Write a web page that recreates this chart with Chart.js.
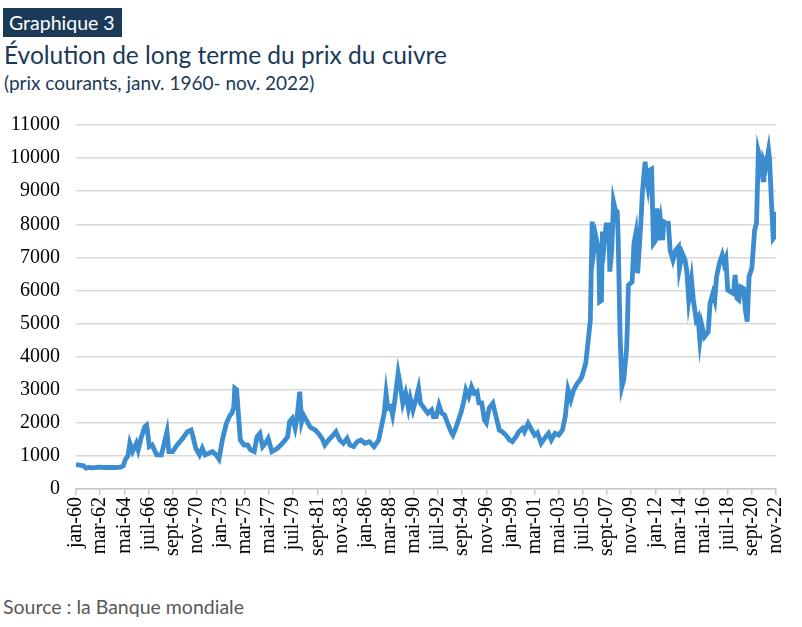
<!DOCTYPE html>
<html lang="fr">
<head>
    <meta charset="UTF-8">
    <title>Évolution de long terme du prix du cuivre</title>
    <script src="https://cdn.jsdelivr.net/npm/chart.js"></script>
    <style>
        body {
            margin: 0;
            width: 802px;
            height: 627px;
            background: #fff;
            position: relative;
            overflow: hidden;
            font-family: 'Lato', 'Noto Sans', sans-serif;
        }
        #badge {
            position: absolute;
            left: 3px;
            top: 8px;
            height: 29px;
            padding: 0 7px 0 6px;
            background: #1b3a57;
            color: #fff;
            font-size: 19.5px;
            line-height: 29px;
        }
        #titre {
            position: absolute;
            left: 4px;
            top: 40px;
            font-size: 24.5px;
            color: #1b3a57;
        }
        #sous-titre {
            position: absolute;
            left: 4px;
            top: 71px;
            font-size: 19px;
            color: #1b3a57;
        }
        #source {
            position: absolute;
            left: 3px;
            top: 595px;
            font-size: 19.5px;
            color: #595959;
        }
        #cadre {
            position: absolute;
            left: 0;
            top: 110px;
            width: 802px;
            height: 470px;
        }
    </style>
</head>
<body>
    <div id="badge">Graphique 3</div>
    <div id="titre">Évolution de long terme du prix du cuivre</div>
    <div id="sous-titre">(prix courants, janv. 1960- nov. 2022)</div>
    <div id="cadre"><canvas id="graphique"></canvas></div>
    <div id="source">Source : la Banque mondiale</div>

    <script>
        // Étiquettes de l'axe horizontal (un repère tous les 26 mois)
        const etiquettes = ['jan-60', 'mar-62', 'mai-64', 'juil-66', 'sept-68', 'nov-70', 'jan-73', 'mar-75',
            'mai-77', 'juil-79', 'sept-81', 'nov-83', 'jan-86', 'mar-88', 'mai-90', 'juil-92', 'sept-94',
            'nov-96', 'jan-99', 'mar-01', 'mai-03', 'juil-05', 'sept-07', 'nov-09', 'jan-12', 'mar-14',
            'mai-16', 'juil-18', 'sept-20', 'nov-22'];

        // Mois
        const mois = [
            '1960-01', '1960-05', '1960-09', '1960-12', '1961-03', '1961-07', '1962-01', '1962-07', '1963-01', '1963-07',
            '1964-01', '1964-04', '1964-06', '1964-09', '1964-11', '1965-02', '1965-04', '1965-06', '1965-08', '1965-11',
            '1966-03', '1966-05', '1966-06', '1966-08', '1966-11', '1967-02', '1967-04', '1967-09', '1967-12', '1968-03',
            '1968-05', '1968-09', '1969-02', '1969-08', '1970-01', '1970-05', '1970-07', '1970-10', '1971-02', '1971-05',
            '1971-08', '1971-12', '1972-04', '1972-08', '1972-11', '1973-03', '1973-07', '1973-11', '1974-01', '1974-03',
            '1974-04', '1974-06', '1974-08', '1974-10', '1975-02', '1975-06', '1975-09', '1976-01', '1976-04', '1976-07',
            '1976-10', '1977-01', '1977-04', '1977-08', '1978-02', '1978-09', '1979-01', '1979-03', '1979-06', '1979-09',
            '1979-11', '1980-02', '1980-04', '1980-06', '1980-10', '1981-01', '1981-03', '1981-07', '1981-10', '1982-02',
            '1982-05', '1982-09', '1983-02', '1983-05', '1983-09', '1984-01', '1984-05', '1984-08', '1984-12', '1985-04',
            '1985-08', '1985-12', '1986-05', '1986-10', '1987-03', '1987-06', '1987-09', '1987-11', '1988-01', '1988-04',
            '1988-06', '1988-08', '1988-12', '1989-02', '1989-05', '1989-08', '1989-11', '1990-01', '1990-04', '1990-07',
            '1990-10', '1990-12', '1991-04', '1991-08', '1991-12', '1992-02', '1992-05', '1992-08', '1992-11', '1993-02',
            '1993-06', '1993-09', '1993-11', '1994-02', '1994-05', '1994-08', '1994-11', '1995-01', '1995-04', '1995-07',
            '1995-10', '1996-01', '1996-03', '1996-06', '1996-09', '1996-11', '1997-02', '1997-06', '1997-09', '1998-01',
            '1998-04', '1998-08', '1998-12', '1999-03', '1999-07', '1999-10', '2000-02', '2000-04', '2000-08', '2000-12',
            '2001-03', '2001-06', '2001-10', '2002-03', '2002-06', '2002-09', '2003-01', '2003-05', '2003-09', '2003-12',
            '2004-03', '2004-06', '2004-09', '2005-01', '2005-04', '2005-06', '2005-10', '2005-12', '2006-03', '2006-05',
            '2006-07', '2006-09', '2006-12', '2007-01', '2007-03', '2007-04', '2007-06', '2007-08', '2007-11', '2007-12',
            '2008-02', '2008-04', '2008-06', '2008-08', '2008-09', '2008-11', '2009-01', '2009-03', '2009-06', '2009-07',
            '2009-08', '2009-12', '2010-02', '2010-04', '2010-06', '2010-08', '2010-10', '2010-11', '2011-02', '2011-04',
            '2011-05', '2011-07', '2011-09', '2011-11', '2012-01', '2012-03', '2012-05', '2012-07', '2012-09', '2012-10',
            '2013-01', '2013-03', '2013-05', '2013-08', '2013-11', '2014-02', '2014-03', '2014-06', '2014-09', '2014-11',
            '2015-01', '2015-04', '2015-06', '2015-09', '2015-11', '2016-01', '2016-03', '2016-06', '2016-10', '2016-12',
            '2017-03', '2017-05', '2017-07', '2017-10', '2018-01', '2018-03', '2018-05', '2018-07', '2018-10', '2019-01',
            '2019-03', '2019-05', '2019-07', '2019-09', '2019-12', '2020-02', '2020-04', '2020-06', '2020-09', '2020-12',
            '2021-02', '2021-04', '2021-07', '2021-09', '2021-10', '2021-12', '2022-03', '2022-04', '2022-06', '2022-08',
            '2022-10', '2022-11'
        ];

        // Prix du cuivre (USD/tonne, prix courants)
        const prix = [
            740, 720, 700, 630, 650, 640, 660, 650, 655, 650,
            660, 700, 880, 1000, 1380, 1130, 1250, 1380, 1180, 1530,
            1880, 1930, 1750, 1280, 1330, 1150, 1030, 1030, 1380, 1730,
            1130, 1130, 1330, 1530, 1730, 1780, 1580, 1230, 1030, 1230,
            1030, 1080, 1130, 1030, 905, 1530, 1985, 2235, 2290, 2490,
            3045, 3000, 2235, 1480, 1330, 1330, 1180, 1130, 1580, 1680,
            1280, 1380, 1530, 1130, 1230, 1430, 1580, 2035, 2135, 1835,
            2135, 2940, 2035, 2235, 2035, 1880, 1835, 1780, 1680, 1530,
            1330, 1480, 1630, 1730, 1480, 1380, 1530, 1330, 1280, 1430,
            1480, 1380, 1430, 1280, 1480, 1880, 2290, 2890, 2440, 2490,
            2235, 2590, 3500, 3195, 2590, 2890, 2440, 2740, 2385, 2690,
            3045, 2590, 2440, 2290, 2390, 2185, 2185, 2540, 2290, 2235,
            1935, 1730, 1630, 1830, 2085, 2340, 2690, 2990, 2790, 3090,
            2890, 2940, 2600, 2600, 2085, 2000, 2440, 2590, 2235, 1780,
            1730, 1630, 1480, 1430, 1580, 1730, 1835, 1730, 1985, 1780,
            1630, 1700, 1380, 1580, 1680, 1480, 1680, 1630, 1780, 2185,
            2990, 2690, 2990, 3195, 3295, 3400, 3800, 4300, 5100, 8080,
            7220, 7620, 7200, 5660, 5700, 7780, 7400, 7980, 7980, 6570,
            7200, 8680, 8430, 8380, 7600, 4700, 3090, 3300, 4200, 5000,
            6160, 6260, 7420, 7720, 6520, 7400, 8330, 8930, 9890, 9290,
            9120, 9640, 9670, 7420, 7500, 8480, 7520, 8030, 7520, 8080,
            8030, 8030, 7220, 6920, 7220, 7320, 6670, 7120, 6920, 6570,
            5710, 6320, 5710, 5110, 5200, 4500, 4960, 4600, 4750, 5610,
            5910, 5710, 6420, 6820, 7070, 6820, 6970, 6010, 5960, 5910,
            6470, 5760, 5710, 6110, 6060, 5410, 5060, 6420, 6670, 7830,
            8030, 10190, 9840, 9340, 9890, 9740, 10240, 9990, 8730, 7570,
            7650, 8380
        ];

        // Nombre de mois écoulés depuis janvier 1960
        function indiceMois(m) {
            const [a, mm] = m.split('-').map(Number);
            return (a - 1960) * 12 + (mm - 1);
        }

        const points = mois.map((m, i) => ({ x: indiceMois(m), y: prix[i] }));
        const pas = 26;

        const policeAxes = { family: "'Liberation Serif', 'Times New Roman', serif", size: 20 };

        new Chart(document.getElementById('graphique'), {
            type: 'line',
            data: {
                datasets: [{
                    label: 'Prix du cuivre',
                    data: points,
                    borderColor: '#3c8dd0',
                    borderWidth: 4.8,
                    pointRadius: 0,
                    tension: 0,
                    fill: false
                }]
            },
            options: {
                responsive: true,
                maintainAspectRatio: false,
                animation: false,
                layout: { padding: { top: 15, right: 22, bottom: 0, left: 0 } },
                plugins: {
                    legend: { display: false },
                    tooltip: { enabled: false }
                },
                scales: {
                    x: {
                        type: 'linear',
                        min: 0,
                        max: (etiquettes.length - 1) * pas,
                        afterFit: (s) => { s.height = 91; },
                        afterBuildTicks: (s) => {
                            s.ticks = etiquettes.map((_, i) => ({ value: i * pas }));
                        },
                        ticks: {
                            autoSkip: false,
                            maxRotation: 90,
                            minRotation: 90,
                            padding: 2,
                            color: '#000',
                            font: policeAxes,
                            callback: (v) => etiquettes[Math.round(v / pas)]
                        },
                        grid: {
                            drawOnChartArea: false,
                            drawTicks: true,
                            tickLength: 6,
                            color: '#c8c8c8',
                            lineWidth: 1.5
                        },
                        border: { display: true, color: '#c8c8c8', width: 1.5 }
                    },
                    y: {
                        min: 0,
                        max: 11000,
                        afterFit: (s) => { s.width = 76; },
                        ticks: {
                            stepSize: 1000,
                            padding: 2,
                            color: '#000',
                            font: policeAxes,
                            callback: (v) => String(v)
                        },
                        grid: {
                            drawTicks: true,
                            tickLength: 14,
                            tickColor: 'rgba(0,0,0,0)',
                            color: '#d9d9d9',
                            lineWidth: 1.5
                        },
                        border: { display: false }
                    }
                }
            }
        });
    </script>
</body>
</html>
